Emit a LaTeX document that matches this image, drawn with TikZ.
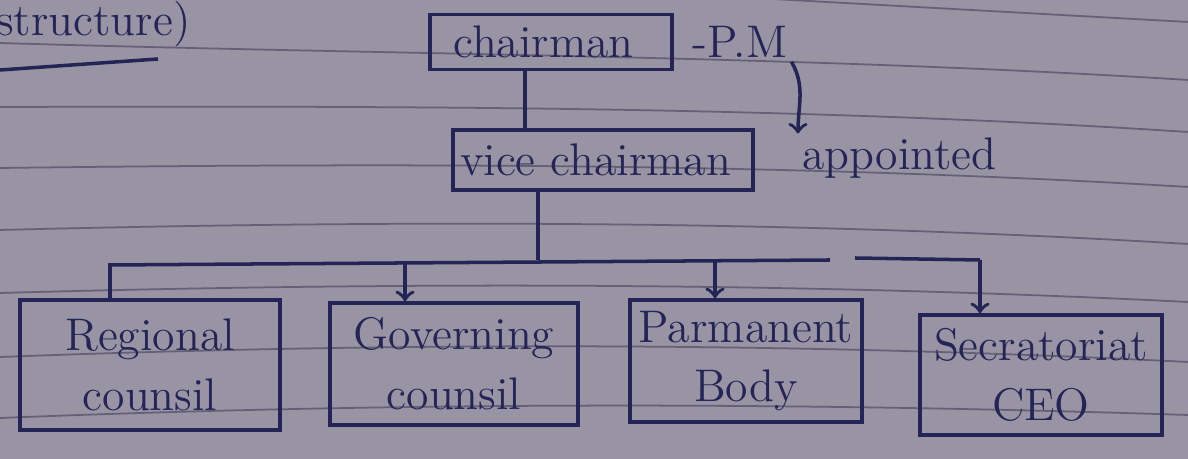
\documentclass[tikz,border=0pt]{standalone}
\usepackage{tikz}
\usetikzlibrary{positioning}
\definecolor{paper}{RGB}{152,148,164}
\definecolor{ruling}{RGB}{100,96,118}
\definecolor{ink}{RGB}{36,36,86}

\begin{document}
\begin{tikzpicture}[x=0.01cm, y=-0.01cm,
    box/.style={draw=ink, line width=1pt, align=center, text=ink, font=\fontsize{13}{17}\selectfont, inner sep=2pt},
    label/.style={text=ink, font=\fontsize{13}{15}\selectfont, inner sep=1pt},
    link/.style={draw=ink, line width=1pt},
    arr/.style={link, ->}]
      \useasboundingbox (0,0) rectangle (1188,459);
      \fill[paper] (0,0) rectangle (1188,459);

      % ruled lines of the page (slightly bent, as on the photo)
      \foreach \a/\b/\c in {43/55/80, 107/106/132, 168/163/187, 230/220/244, 293/282/302, 357/342/362, 418/402/415}{
        \draw[ruling, line width=0.5pt] (0,\a) .. controls (396,\b) and (792,\b) .. (1188,\c);
      }
      \draw[ruling, line width=0.5pt] (700,-5) -- (1188,22);

      \node[label, anchor=west] (title) at (-8,24) { structure) };
      \draw[link] (0,70) -- (158,59);

      \node[box, minimum width=2.42cm, minimum height=0.55cm] (chair) at (551,42) { chairman };
      \node[label, anchor=west] (pm) at (688,42) { -P.M };
      \node[box, minimum width=2.83cm, minimum height=0.6cm] (vice) at (603,160) { vice chairman };
      \node[label, anchor=west] (appt) at (798,158) { appointed };

      \node[box, minimum width=2.6cm, minimum height=1.3cm] (regional) at (150,365) { Regional\\counsil };
      \node[box, minimum width=2.48cm, minimum height=1.22cm] (governing) at (454,364) { Governing\\counsil };
      \node[box, minimum width=2.32cm, minimum height=1.22cm] (parmanent) at (746,361) { Parmanent\\Body };
      \node[box, minimum width=2.42cm, minimum height=1.2cm] (secratoriat) at (1041,375) { Secratoriat\\CEO };

      \coordinate (hub) at (538,260);
      \coordinate (d1) at (110,265);
      \coordinate (d2) at (405,262);
      \coordinate (d3) at (715,261);
      \coordinate (busend) at (830,260);
      \coordinate (seg) at (855,258);
      \coordinate (d4) at (980,260);

      \draw[link] (chair.south -| 525,0) -- (vice.north -| 525,0);
      \draw[link] (vice.south -| hub) -- (hub);
      \draw[link] (d1 |- regional.north) -- (d1) -- (busend);
      \draw[arr] (d2) -- (d2 |- governing.north);
      \draw[arr] (d3) -- (d3 |- parmanent.north);
      \draw[link] (seg) -- (d4);
      \draw[arr] (d4) -- (d4 |- secratoriat.north);

      \draw[arr] (pm.south east) to[out=-60, in=90] (appt.north west);
    \end{tikzpicture}
\end{document}
